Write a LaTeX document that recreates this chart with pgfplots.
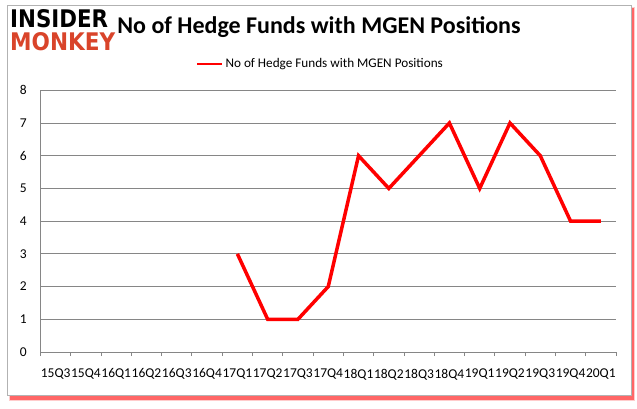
\documentclass[border=0pt]{standalone}
\usepackage{pgfplots}
\pgfplotsset{compat=1.18}
\usepackage{fontspec}
\setmainfont{Carlito}
\newfontfamily\logofont{DejaVu Sans}
\definecolor{gridgrey}{RGB}{134,134,134}
\definecolor{logored}{RGB}{217,68,42}
\begin{document}
\begin{tikzpicture}
\path (0pt,0pt) rectangle (637pt,408pt);
% frame with shadow
\fill[red!20] (9pt,7pt) rectangle (635pt,401pt);
\fill[red!60] (10pt,8.5pt) rectangle (633.5pt,400pt);
\filldraw[fill=white,draw=gray!60] (7pt,13pt) rectangle (631pt,403pt);
% logo
\node[anchor=west,inner sep=0pt] at (10pt,389pt) {\resizebox{98pt}{18pt}{\logofont\bfseries INSIDER}};
\node[anchor=west,inner sep=0pt] at (10pt,366pt) {\resizebox{105pt}{18pt}{\logofont\bfseries\color{logored}MONKEY}};
% title
\node[inner sep=0pt] at (319pt,381pt) {\fontsize{24}{27}\selectfont\bfseries No of Hedge Funds with MGEN Positions};
\begin{axis}[
  at={(40.5pt,56pt)}, anchor=south west,
  width=575.5pt, height=261.7pt, scale only axis,
  xmin=-0.5, xmax=18.5, ymin=0, ymax=8,
  axis x line=bottom, axis y line=left,
  axis line style={gridgrey, line width=0.9pt, -},
  xtick={0,...,18},
  xticklabels={15Q3,15Q4,16Q1,16Q2,16Q3,16Q4,17Q1,17Q2,17Q3,17Q4,18Q1,18Q2,18Q3,18Q4,19Q1,19Q2,19Q3,19Q4,20Q1},
  major x tick style={draw=none},
  minor xtick={-0.5,0.5,...,18.5},
  minor tick length=4pt,
  tick align=outside,
  minor x tick style={gridgrey, line width=0.9pt},
  ytick={0,...,8},
  major y tick style={draw=none},
  ymajorgrids, grid style={gridgrey, line width=0.9pt},
  tick label style={font=\fontsize{13.5}{15}\selectfont},
  xticklabel style={yshift=-9pt},
  yticklabel style={xshift=-6pt},
  /pgf/number format/assume math mode=true,
  legend style={at={(0.4865,1.1005)}, anchor=center, draw=none, fill=none,
    font=\fontsize{13.2}{15}\selectfont, inner sep=0pt},
  legend image code/.code={\draw[red, line width=2.5pt] (0,0) -- (25pt,0);},
  legend cell align=left,
  clip=false,
]
\addplot[red, line width=3.5pt] coordinates {
(6,3) (7,1) (8,1) (9,2) (10,6) (11,5) (12,6) (13,7) (14,5) (15,7) (16,6) (17,4) (18,4)};
\addlegendentry{No of Hedge Funds with MGEN Positions}
\end{axis}
\end{tikzpicture}
\end{document}
